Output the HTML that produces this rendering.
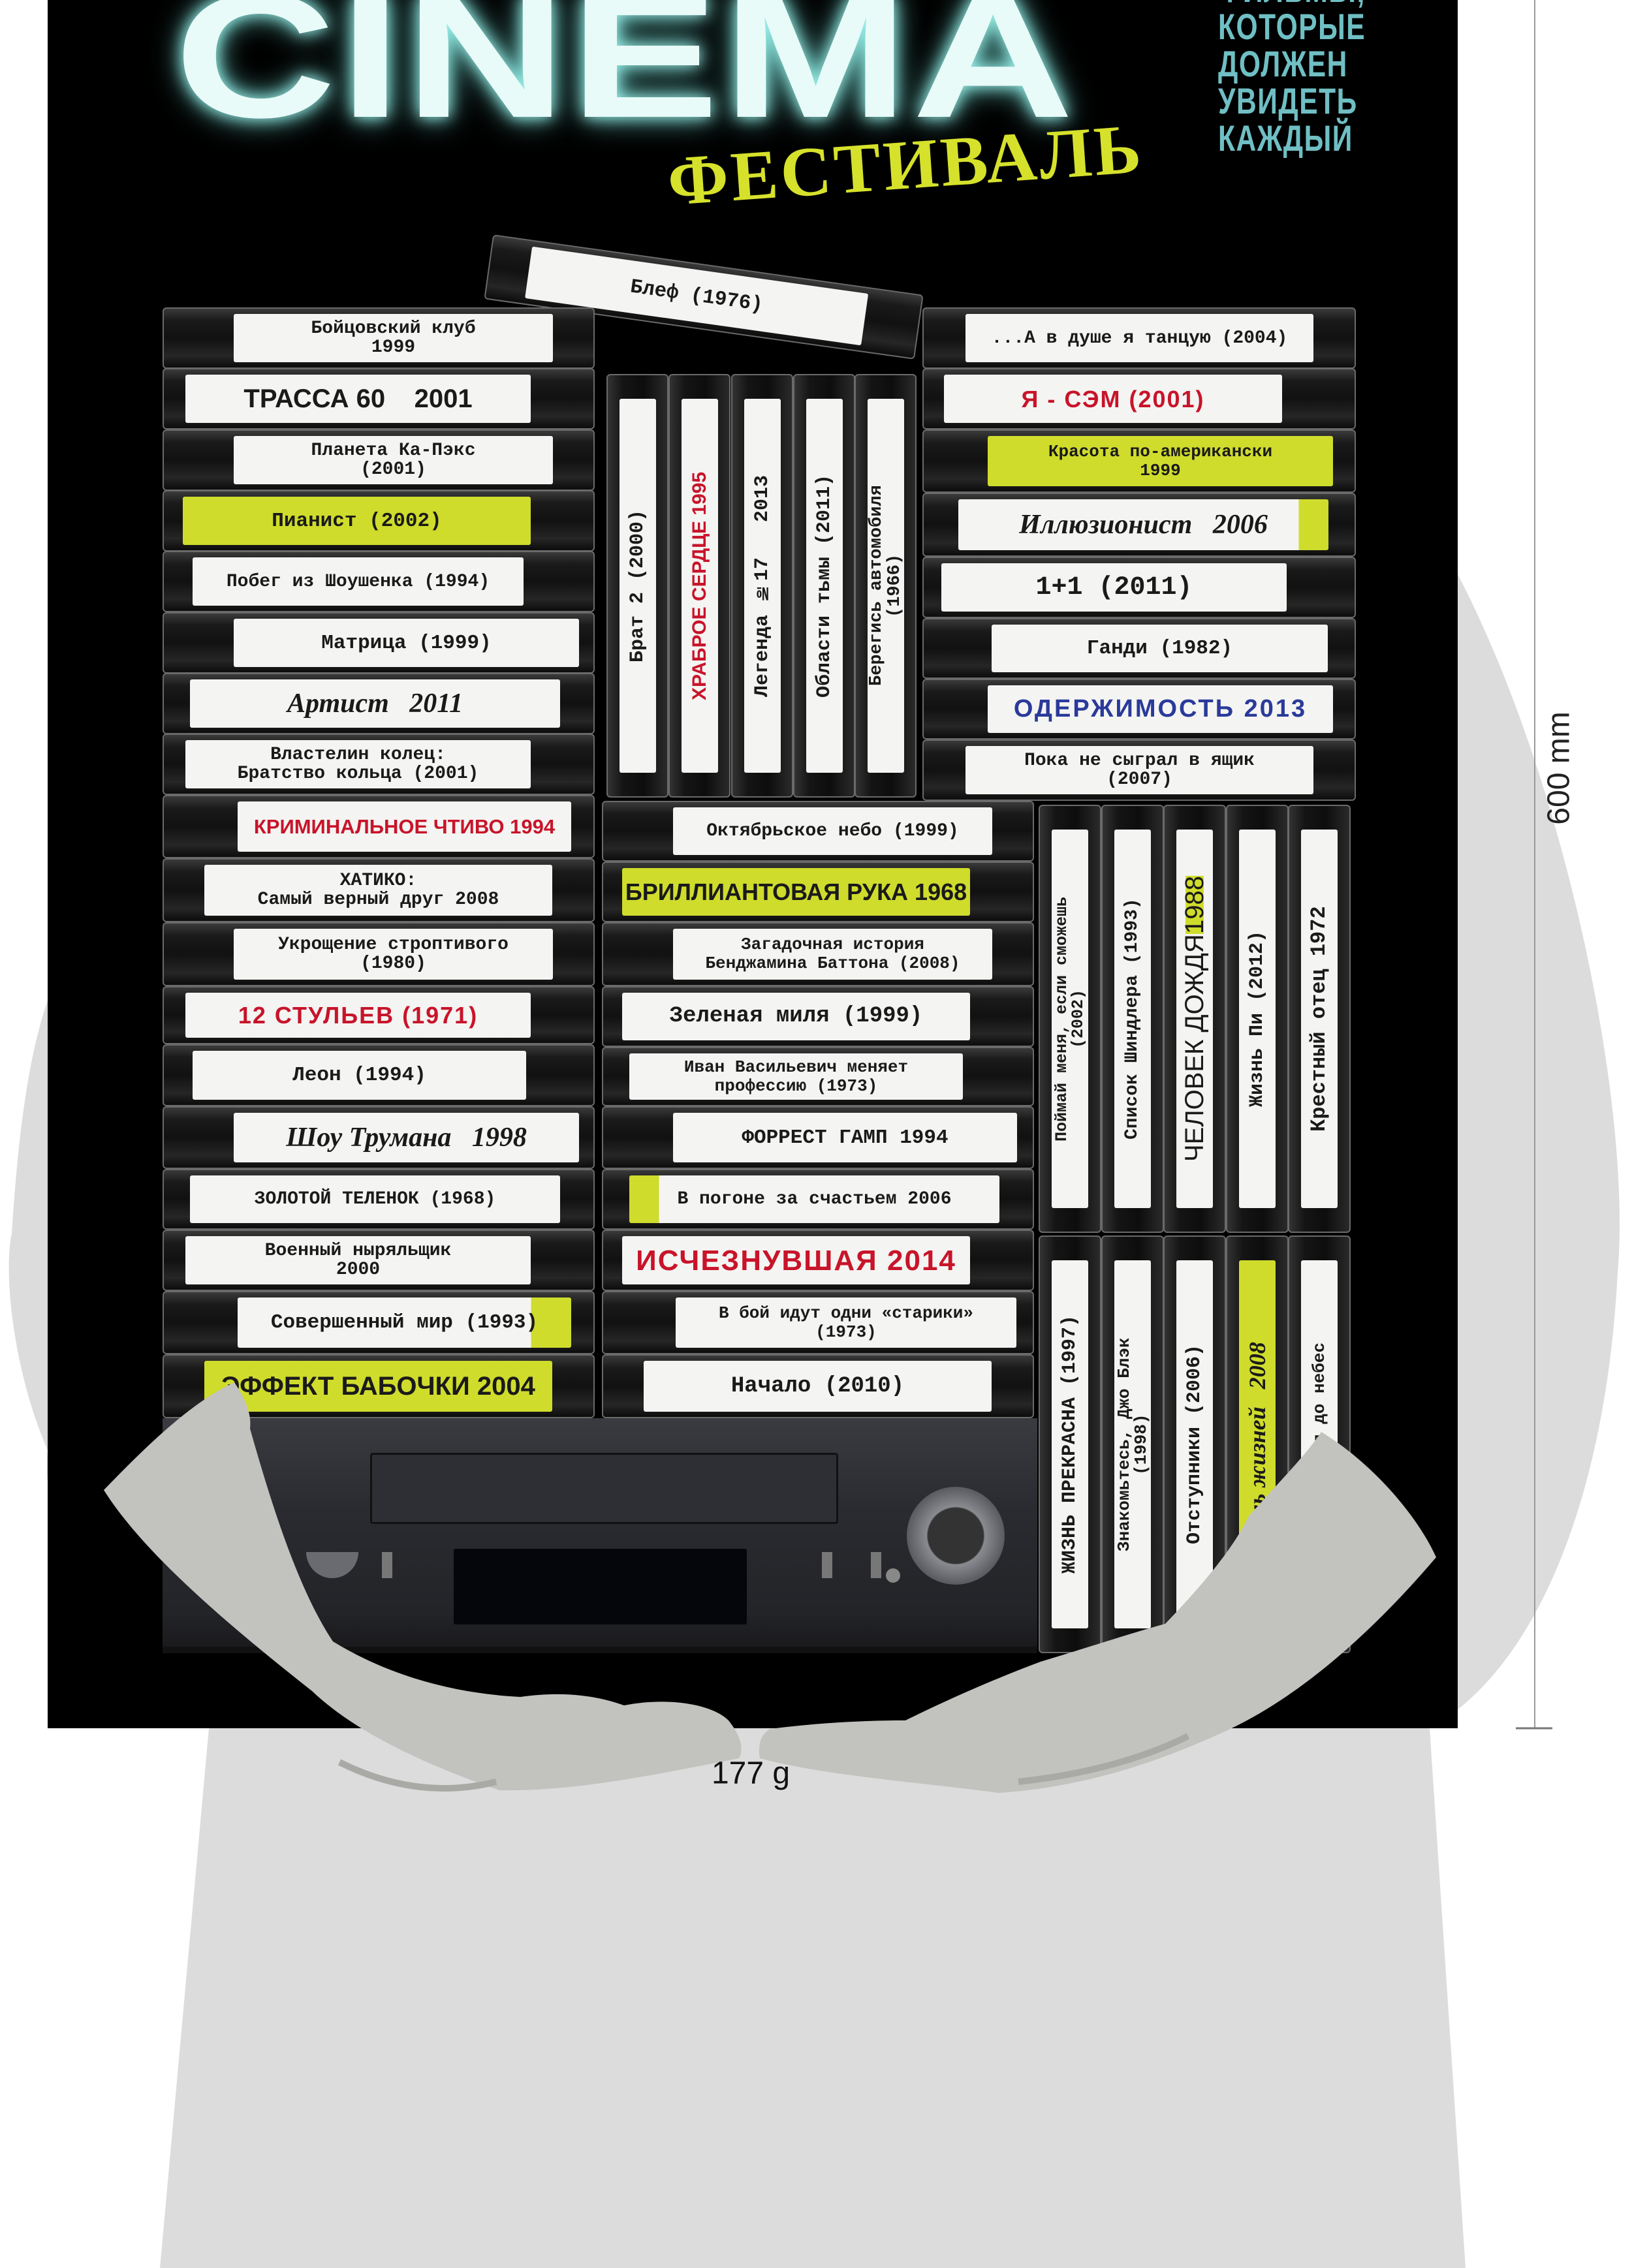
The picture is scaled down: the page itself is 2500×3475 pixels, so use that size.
<!DOCTYPE html>
<html><head><meta charset="utf-8">
<style>
html,body{margin:0;padding:0;}
body{width:2500px;height:3475px;position:relative;overflow:hidden;background:#fff;font-family:"Liberation Sans","Noto Sans CJK SC",sans-serif;}
.abs{position:absolute;}
#poster{position:absolute;left:73px;top:0;width:2160px;height:2648px;background:#000;overflow:hidden;}
.h{position:absolute;background:linear-gradient(#3a3a3a,#1a1a1a 20%,#111 50%,#262626 80%,#0c0c0c);border:2px solid #6a6a6a;border-radius:6px;box-sizing:border-box;}
.h .l{position:absolute;top:8px;bottom:8px;background:#f4f4f2;color:#1a1a1a;font-family:"Liberation Mono",monospace;font-weight:bold;font-size:31px;line-height:31px;display:flex;align-items:center;justify-content:center;text-align:center;white-space:nowrap;border-radius:3px;overflow:hidden;}
.l.t{font-size:28px;line-height:29px;}
.y{background:#cfdc2c !important;}
.r{color:#c8142a !important;font-family:"Liberation Sans",sans-serif !important;font-size:36px !important;letter-spacing:2px;}
.b{color:#2a3a9a !important;font-family:"Liberation Sans",sans-serif !important;font-size:38px !important;letter-spacing:3px;}
.s{font-family:"Liberation Serif",serif !important;font-style:italic;font-size:42px !important;}
.v{position:absolute;background:linear-gradient(90deg,#333,#151515 25%,#0d0d0d 60%,#2a2a2a);border:2px solid #6a6a6a;border-radius:6px;box-sizing:border-box;}
.v .l{position:absolute;left:18px;width:56px;top:36px;bottom:36px;background:#f4f4f2;color:#1a1a1a;font-family:"Liberation Mono",monospace;font-weight:bold;font-size:30px;line-height:28px;writing-mode:vertical-rl;transform:rotate(180deg);display:flex;align-items:center;justify-content:center;text-align:center;white-space:nowrap;border-radius:3px;overflow:hidden;}
</style></head><body>

<svg class="abs" style="left:0;top:0" width="2500" height="3475">
<path d="M2233 880 C2400 1200 2500 1700 2478 1950 C2460 2300 2350 2560 2190 2648 L2245 3475 L245 3475 L320 2648 C150 2500 60 2350 73 2222 C20 2100 5 1950 18 1890 C30 1700 50 1600 73 1533 Z" fill="#dcdcdc"/>
<line x1="2351" y1="0" x2="2351" y2="2648" stroke="#999" stroke-width="2"/>
<line x1="2322" y1="2648" x2="2378" y2="2648" stroke="#777" stroke-width="3"/>
</svg>
<div class="abs" style="left:2388px;top:1177px;transform:translate(-50%,-50%) rotate(-90deg);font-size:48px;color:#222;white-space:nowrap;">600 mm</div>

<div id="poster">
 <div class="abs" style="left:194px;top:-48px;font-size:270px;line-height:1;font-weight:bold;color:#e8fbf8;transform:scaleX(1.27);transform-origin:0 0;text-shadow:0 0 20px #9ff0ea,0 0 40px #6fd8d0;letter-spacing:4px;">CINEMA</div>
 <div class="abs" style="left:1793px;top:-45px;font-size:56px;line-height:57px;font-weight:bold;color:#6fbfc4;letter-spacing:2px;transform:scaleX(0.76);transform-origin:0 0;">ФИЛЬМЫ,<br>КОТОРЫЕ<br>ДОЛЖЕН<br>УВИДЕТЬ<br>КАЖДЫЙ</div>
 <div class="abs" style="left:954px;top:225px;font-family:'Liberation Serif',serif;font-size:108px;line-height:1;font-weight:bold;color:#d6e12b;transform:rotate(-4deg);transform-origin:0 100%;letter-spacing:4px;">ФЕСТИВАЛЬ</div>

 <div class="h" style="left:672px;top:405px;width:666px;height:100px;transform:rotate(8deg);"><div class="l" style="left:60px;width:520px;">Блеф (1976)</div></div>

 <div class="h" style="left:176px;top:471px;width:662px;height:94px"><div class="l t" style="left:107px;width:489px">Бойцовский клуб<br>1999</div></div>
 <div class="h" style="left:176px;top:564px;width:662px;height:94px"><div class="l" style="left:33px;width:529px;font-family:'Liberation Sans';font-size:40px">ТРАССА 60 &nbsp;&nbsp; 2001</div></div>
 <div class="h" style="left:176px;top:658px;width:662px;height:94px"><div class="l t" style="left:107px;width:489px">Планета Ка-Пэкс<br>(2001)</div></div>
 <div class="h" style="left:176px;top:751px;width:662px;height:94px"><div class="l y" style="left:29px;width:533px">Пианист (2002)</div></div>
 <div class="h" style="left:176px;top:844px;width:662px;height:94px"><div class="l" style="left:44px;width:507px;font-size:28px">Побег из Шоушенка (1994)</div></div>
 <div class="h" style="left:176px;top:938px;width:662px;height:94px"><div class="l" style="left:107px;width:529px">Матрица (1999)</div></div>
 <div class="h" style="left:176px;top:1031px;width:662px;height:94px"><div class="l s" style="left:40px;width:567px">Артист &nbsp; 2011</div></div>
 <div class="h" style="left:176px;top:1124px;width:662px;height:94px"><div class="l t" style="left:33px;width:529px">Властелин колец:<br>Братство кольца (2001)</div></div>
 <div class="h" style="left:176px;top:1218px;width:662px;height:97px"><div class="l r" style="left:113px;width:511px;font-size:31px !important;letter-spacing:0">КРИМИНАЛЬНОЕ ЧТИВО 1994</div></div>
 <div class="h" style="left:176px;top:1315px;width:662px;height:98px"><div class="l t" style="left:62px;width:533px">ХАТИКО:<br>Самый верный друг 2008</div></div>
 <div class="h" style="left:176px;top:1413px;width:662px;height:98px"><div class="l t" style="left:107px;width:489px">Укрощение строптивого<br>(1980)</div></div>
 <div class="h" style="left:176px;top:1511px;width:662px;height:89px"><div class="l r" style="left:33px;width:529px">12 СТУЛЬЕВ (1971)</div></div>
 <div class="h" style="left:176px;top:1600px;width:662px;height:95px"><div class="l" style="left:44px;width:511px">Леон (1994)</div></div>
 <div class="h" style="left:176px;top:1695px;width:662px;height:96px"><div class="l s" style="left:107px;width:529px">Шоу Трумана &nbsp; 1998</div></div>
 <div class="h" style="left:176px;top:1791px;width:662px;height:93px"><div class="l" style="left:40px;width:567px;font-size:28px">ЗОЛОТОЙ ТЕЛЕНОК (1968)</div></div>
 <div class="h" style="left:176px;top:1884px;width:662px;height:94px"><div class="l t" style="left:33px;width:529px">Военный ныряльщик<br>2000</div></div>
 <div class="h" style="left:176px;top:1978px;width:662px;height:97px"><div class="l" style="left:113px;width:511px;background:linear-gradient(90deg,#f4f4f2 88%,#cfdc2c 88%)">Совершенный мир (1993)</div></div>
 <div class="h" style="left:176px;top:2075px;width:662px;height:98px"><div class="l y" style="left:62px;width:533px;font-family:'Liberation Sans';font-size:40px">ЭФФЕКТ БАБОЧКИ 2004</div></div>

 <div class="v" style="left:856px;top:573px;width:95px;height:649px"><div class="l">Брат 2 (2000)</div></div>
 <div class="v" style="left:951px;top:573px;width:95px;height:649px"><div class="l" style="color:#c8142a;font-family:'Liberation Sans'">ХРАБРОЕ СЕРДЦЕ 1995</div></div>
 <div class="v" style="left:1047px;top:573px;width:95px;height:649px"><div class="l">Легенда №17 &nbsp; 2013</div></div>
 <div class="v" style="left:1142px;top:573px;width:95px;height:649px"><div class="l">Области тьмы (2011)</div></div>
 <div class="v" style="left:1236px;top:573px;width:95px;height:649px"><div class="l" style="font-size:27px">Берегись автомобиля<br>(1966)</div></div>

 <div class="h" style="left:849px;top:1227px;width:662px;height:93px"><div class="l" style="left:107px;width:489px;font-size:28px">Октябрьское небо (1999)</div></div>
 <div class="h" style="left:849px;top:1320px;width:662px;height:93px"><div class="l y" style="left:29px;width:533px;font-family:'Liberation Sans';font-size:36px">БРИЛЛИАНТОВАЯ РУКА 1968</div></div>
 <div class="h" style="left:849px;top:1413px;width:662px;height:98px"><div class="l t" style="left:107px;width:489px;font-size:26px">Загадочная история<br>Бенджамина Баттона (2008)</div></div>
 <div class="h" style="left:849px;top:1511px;width:662px;height:93px"><div class="l" style="left:29px;width:533px;font-size:34px">Зеленая миля (1999)</div></div>
 <div class="h" style="left:849px;top:1604px;width:662px;height:91px"><div class="l t" style="left:40px;width:511px;font-size:26px">Иван Васильевич меняет<br>профессию (1973)</div></div>
 <div class="h" style="left:849px;top:1695px;width:662px;height:96px"><div class="l" style="left:107px;width:527px">ФОРРЕСТ ГАМП 1994</div></div>
 <div class="h" style="left:849px;top:1791px;width:662px;height:93px"><div class="l" style="left:40px;width:567px;font-size:28px;background:linear-gradient(90deg,#cfdc2c 8%,#f4f4f2 8%)">В погоне за счастьем 2006</div></div>
 <div class="h" style="left:849px;top:1884px;width:662px;height:94px"><div class="l r" style="left:29px;width:533px;font-size:44px !important">ИСЧЕЗНУВШАЯ 2014</div></div>
 <div class="h" style="left:849px;top:1978px;width:662px;height:97px"><div class="l t" style="left:111px;width:522px;font-size:26px">В бой идут одни «старики»<br>(1973)</div></div>
 <div class="h" style="left:849px;top:2075px;width:662px;height:98px"><div class="l" style="left:62px;width:533px;font-size:34px">Начало (2010)</div></div>

 <div class="h" style="left:1340px;top:471px;width:664px;height:94px"><div class="l" style="left:64px;width:533px;font-size:28px">...А в душе я танцую (2004)</div></div>
 <div class="h" style="left:1340px;top:564px;width:664px;height:94px"><div class="l r" style="left:31px;width:518px">Я - СЭМ (2001)</div></div>
 <div class="h" style="left:1340px;top:658px;width:664px;height:97px"><div class="l t y" style="left:98px;width:529px;font-size:26px">Красота по-американски<br>1999</div></div>
 <div class="h" style="left:1340px;top:755px;width:664px;height:98px"><div class="l s" style="left:53px;width:567px;background:linear-gradient(90deg,#f4f4f2 92%,#cfdc2c 92%)">Иллюзионист &nbsp; 2006</div></div>
 <div class="h" style="left:1340px;top:853px;width:664px;height:94px"><div class="l" style="left:27px;width:529px;font-size:40px">1+1 (2011)</div></div>
 <div class="h" style="left:1340px;top:947px;width:664px;height:93px"><div class="l" style="left:104px;width:515px">Ганди (1982)</div></div>
 <div class="h" style="left:1340px;top:1040px;width:664px;height:93px"><div class="l b" style="left:98px;width:529px">ОДЕРЖИМОСТЬ 2013</div></div>
 <div class="h" style="left:1340px;top:1133px;width:664px;height:94px"><div class="l t" style="left:64px;width:533px">Пока не сыграл в ящик<br>(2007)</div></div>

 <div class="v" style="left:1518px;top:1233px;width:96px;height:656px"><div class="l" style="font-size:25px;line-height:25px">Поймай меня, если сможешь<br>(2002)</div></div>
 <div class="v" style="left:1614px;top:1233px;width:96px;height:656px"><div class="l" style="font-size:28px">Список Шиндлера (1993)</div></div>
 <div class="v" style="left:1709px;top:1233px;width:96px;height:656px"><div class="l" style="font-family:'Liberation Sans';font-size:40px;font-weight:normal">ЧЕЛОВЕК ДОЖДЯ <span style="background:#cfdc2c">1988</span></div></div>
 <div class="v" style="left:1805px;top:1233px;width:96px;height:656px"><div class="l">Жизнь Пи (2012)</div></div>
 <div class="v" style="left:1900px;top:1233px;width:96px;height:656px"><div class="l" style="font-size:32px">Крестный отец 1972</div></div>
 <div class="v" style="left:1518px;top:1893px;width:96px;height:640px"><div class="l">ЖИЗНЬ ПРЕКРАСНА (1997)</div></div>
 <div class="v" style="left:1614px;top:1893px;width:96px;height:640px"><div class="l" style="font-size:26px;line-height:26px">Знакомьтесь, Джо Блэк<br>(1998)</div></div>
 <div class="v" style="left:1709px;top:1893px;width:96px;height:640px"><div class="l">Отступники (2006)</div></div>
 <div class="v" style="left:1805px;top:1893px;width:96px;height:640px"><div class="l y" style="font-family:'Liberation Serif';font-style:italic;font-size:36px">Семь жизней &nbsp; 2008</div></div>
 <div class="v" style="left:1900px;top:1893px;width:96px;height:640px"><div class="l" style="font-size:26px">Достучаться до небес</div></div>

 <div class="abs" style="left:176px;top:2173px;width:1340px;height:360px;background:linear-gradient(#3a3b40,#2a2b30 40%,#232428 85%,#1a1a1d);border-bottom:10px solid #111;box-sizing:border-box;">
  <div class="abs" style="left:318px;top:53px;width:711px;height:103px;border:3px solid #111;background:#2e2f34;border-radius:4px"></div>
  <div class="abs" style="left:446px;top:200px;width:449px;height:116px;background:#05060c;border-radius:3px"></div>
  <div class="abs" style="left:220px;top:205px;width:80px;height:40px;background:#6a6b70;border-radius:0 0 40px 40px"></div>
  <div class="abs" style="left:336px;top:205px;width:16px;height:40px;background:#777"></div>
  <div class="abs" style="left:1010px;top:205px;width:16px;height:40px;background:#777"></div>
  <div class="abs" style="left:1085px;top:205px;width:16px;height:40px;background:#777"></div>
  <div class="abs" style="left:1140px;top:105px;width:150px;height:150px;border-radius:50%;background:radial-gradient(#333 40%,#8a8b90 42%,#5a5b60 70%,#2a2b30)"></div>
  <div class="abs" style="left:1108px;top:230px;width:22px;height:22px;border-radius:50%;background:#888"></div>
 </div>
</div>

<svg class="abs" style="left:0;top:0" width="2500" height="3475">
<path d="M159 2283 C220 2220 290 2150 359 2118 C380 2150 385 2170 383 2189 C420 2320 460 2440 510 2515 C600 2570 700 2595 797 2600 C870 2590 920 2600 956 2613 C1020 2600 1090 2610 1116 2636 C1135 2660 1140 2680 1132 2694 C1000 2720 880 2745 765 2743 C640 2700 540 2650 478 2591 C350 2490 220 2380 159 2283 Z" fill="#c2c2bf"/>
<path d="M2024 2194 C2100 2240 2170 2320 2200 2386 C2120 2480 2000 2600 1865 2658 C1750 2710 1640 2740 1530 2747 C1400 2730 1260 2720 1164 2694 C1160 2670 1168 2655 1180 2649 C1250 2640 1320 2636 1387 2636 C1460 2600 1530 2570 1594 2546 C1680 2520 1740 2500 1785 2488 C1850 2420 1890 2370 1913 2323 C1960 2270 2000 2230 2024 2194 Z" fill="#c2c2bf"/>
<path d="M520 2700 C600 2740 680 2750 760 2730" stroke="#a9a9a6" stroke-width="10" fill="none"/>
<path d="M1560 2730 C1650 2720 1740 2700 1820 2660" stroke="#a9a9a6" stroke-width="10" fill="none"/>
</svg>
<div class="abs" style="left:1150px;top:2717px;transform:translate(-50%,-50%);font-size:48px;color:#111;">177 g</div>
</body></html>
